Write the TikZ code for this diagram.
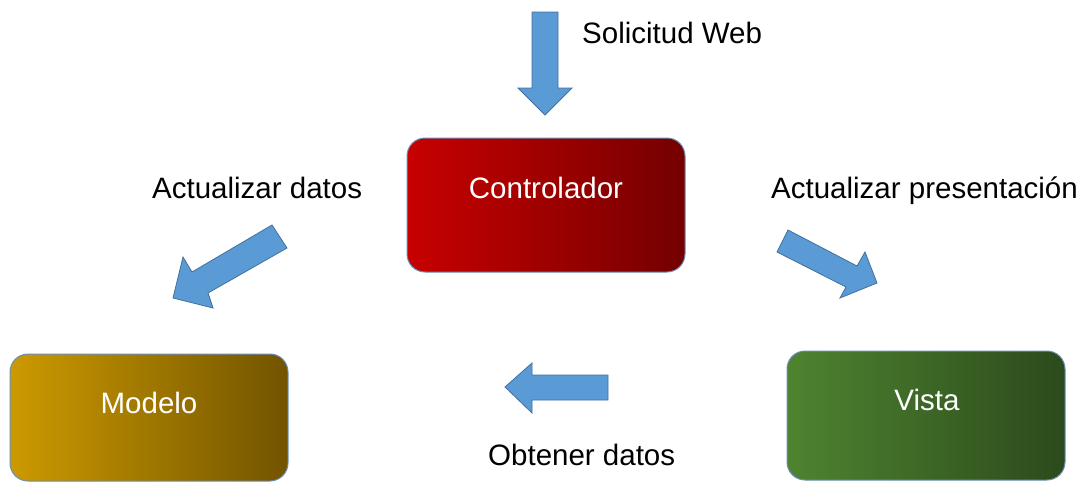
\documentclass[tikz,border=0pt]{standalone}
\usepackage{fontspec}
\setmainfont{Liberation Sans}
\definecolor{arrowfill}{HTML}{5B9BD5}
\definecolor{arrowline}{HTML}{41719C}
\definecolor{boxline}{HTML}{6A8FB8}
\definecolor{redA}{HTML}{C80000}
\definecolor{redB}{HTML}{740000}
\definecolor{goldA}{HTML}{CC9A00}
\definecolor{goldB}{HTML}{725400}
\definecolor{greenA}{HTML}{4E8430}
\definecolor{greenB}{HTML}{2C4A1C}
\begin{document}
\begin{tikzpicture}[x=1pt,y=-1pt,
  mvcbox/.style={draw=boxline, line width=1pt, rounded corners=18pt,
    inner sep=0pt, minimum width=278pt, shading=axis, shading angle=90},
  boxtext/.style={text=white, font=\fontsize{29.5}{34}\selectfont, anchor=base},
  label/.style={text=black, font=\fontsize{29.5}{34}\selectfont, anchor=base west, inner sep=0pt},
  blockarrow/.style={fill=arrowfill, draw=arrowline, line width=0.8pt, line join=miter}]
\useasboundingbox (0,0) rectangle (1089,482);

% the three components
\node[mvcbox, minimum height=134pt, left color=redA, right color=redB] (ctrl) at (546,205) {};
\node[mvcbox, minimum height=127pt, left color=goldA, right color=goldB] (model) at (149,417.5) {};
\node[mvcbox, minimum height=129pt, left color=greenA, right color=greenB] (view) at (926,415.5) {};

\node[boxtext] (ctrltext) at (546,198) {Controlador};
\node[boxtext] (modeltext) at (149,413) {Modelo};
\node[boxtext] (viewtext) at (927,410) {Vista};

% incoming web request
\draw[blockarrow] (532,12) -- (558,12) -- (558,88) -- (572,88) -- (545,115)
  -- (518,88) -- (532,88) -- cycle;

% controller -> model
\draw[blockarrow] (272,225) -- (287,248) -- (208,293) -- (213,308) -- (173,298)
  -- (183,257) -- (192,272) -- cycle;

% controller -> view
\draw[blockarrow] (788,230) -- (777,252) -- (846,287) -- (840,298) -- (877,283)
  -- (865,252) -- (857,266) -- cycle;

% view <- model data
\draw[blockarrow] (608,375) -- (608,400) -- (532,400) -- (532,413) -- (505,387)
  -- (532,363) -- (532,375) -- cycle;

% labels
\node[label] (lweb) at (582,43) {Solicitud Web};
\node[label] (lmodel) at (152,198) {Actualizar datos};
\node[label] (lview) at (771,198) {Actualizar presentación};
\node[label] (ldata) at (488,465) {Obtener datos};
\end{tikzpicture}
\end{document}
